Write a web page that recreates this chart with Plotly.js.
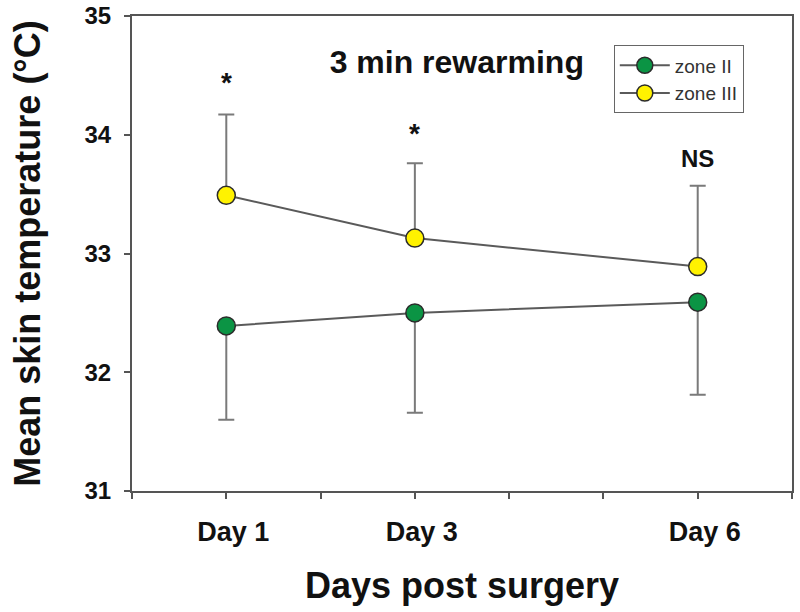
<!DOCTYPE html>
<html>
<head>
<meta charset="utf-8">
<script src="https://cdn.plot.ly/plotly-3.0.1.min.js"></script>
<style>html,body{margin:0;padding:0;background:#fff;}#chart{width:800px;height:612px;}</style>
</head>
<body>
<div id="chart"></div>
<script>
// Data
var days = [1, 3, 6];
var zone2 = [32.39, 32.50, 32.59];
var zone2ErrDown = [0.79, 0.84, 0.78];
var zone3 = [33.49, 33.13, 32.89];
var zone3ErrUp = [0.68, 0.63, 0.68];
var tickDays = [0, 1, 2, 3, 4, 5, 6, 7];
var tickLabels = ['', 'Day 1', '', 'Day 3', '', '', 'Day 6', ''];
var sigLabels = ['*', '*', 'NS'];
var sigY = [34.44, 34.01, 33.80];
var yTitle = 'Mean skin temperature (\u00B0C)';

var FONT = 'Liberation Sans, Arial, sans-serif';

var traces = [
  {
    x: days, y: zone2, name: 'zone II', type: 'scatter', mode: 'lines+markers',
    line: {color: '#5a5a5a', width: 2},
    marker: {size: 18, color: '#0b9444', line: {color: '#2b2b2b', width: 1.5}},
    error_y: {type: 'data', symmetric: false, array: [0, 0, 0], arrayminus: zone2ErrDown,
              color: '#7a7a7a', thickness: 2, width: 8}
  },
  {
    x: days, y: zone3, name: 'zone III', type: 'scatter', mode: 'lines+markers',
    line: {color: '#5a5a5a', width: 2},
    marker: {size: 18, color: '#fff200', line: {color: '#2b2b2b', width: 1.5}},
    error_y: {type: 'data', symmetric: false, array: zone3ErrUp, arrayminus: [0, 0, 0],
              color: '#7a7a7a', thickness: 2, width: 8}
  }
];

var annotations = days.map(function (d, i) {
  return {
    x: d, y: sigY[i], xref: 'x', yref: 'y', text: sigLabels[i], showarrow: false,
    font: {family: FONT, size: sigLabels[i] === '*' ? 28 : 24, color: '#111', weight: 'bold'},
    xanchor: 'center', yanchor: 'middle'
  };
});

var layout = {
  width: 800, height: 612,
  margin: {l: 132, r: 8, t: 16, b: 121},
  paper_bgcolor: '#fff', plot_bgcolor: '#fff',
  font: {family: FONT, color: '#111'},
  title: {
    text: '3 min rewarming', x: 0.571, xanchor: 'center', y: 0.899, yanchor: 'middle',
    font: {family: FONT, size: 32, color: '#111', weight: 'bold'}
  },
  xaxis: {
    range: [0, 7], tickmode: 'array', tickvals: tickDays, ticktext: tickLabels,
    ticks: 'outside', ticklen: 6, tickwidth: 2, tickcolor: '#555',
    showline: true, linecolor: '#555', linewidth: 2, mirror: true,
    showgrid: false, zeroline: false, ticklabelstandoff: 10, ticklabelshift: 7,
    tickfont: {family: FONT, size: 27, color: '#111', weight: 'bold'},
    title: {text: 'Days post surgery', font: {family: FONT, size: 36, color: '#111', weight: 'bold'}, standoff: 26}
  },
  yaxis: {
    range: [31, 35], tickmode: 'array', tickvals: [31, 32, 33, 34, 35],
    ticks: 'outside', ticklen: 6, tickwidth: 2, tickcolor: '#555',
    showline: true, linecolor: '#555', linewidth: 2, mirror: true,
    showgrid: false, zeroline: false, ticklabelstandoff: 8,
    tickfont: {family: FONT, size: 24, color: '#111', weight: 'bold'},
    title: {text: yTitle, font: {family: FONT, size: 36, color: '#111', weight: 'bold'}, standoff: 33}
  },
  showlegend: true,
  legend: {
    x: 0.73, y: 0.938, xanchor: 'left', yanchor: 'top',
    bordercolor: '#666', borderwidth: 1, bgcolor: '#fff',
    font: {family: FONT, size: 19, color: '#333'},
    tracegroupgap: 0, itemwidth: 50
  },
  annotations: annotations
};

Plotly.newPlot('chart', traces, layout, {displayModeBar: false, staticPlot: true});
</script>
</body>
</html>
